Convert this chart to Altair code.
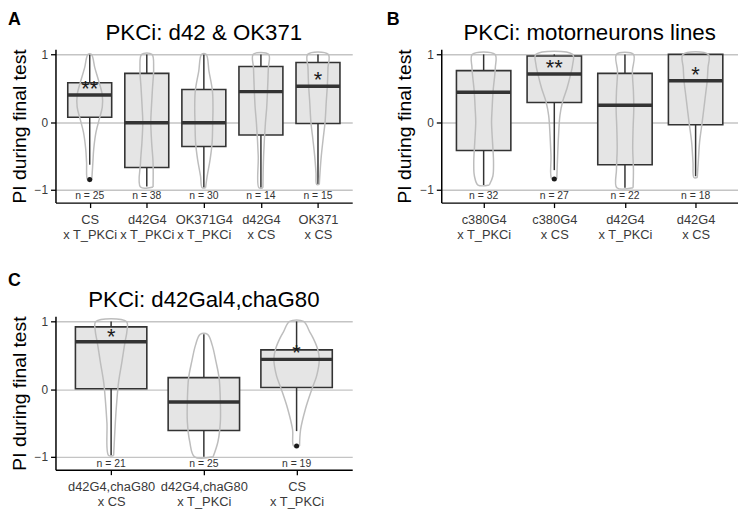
import altair as alt
import pandas as pd

FONT = "Liberation Sans"

# ---------------- Panel A ----------------
A_letter = "A"
A_title = "PKCi: d42 & OK371"
A_line1 = ["CS", "d42G4", "OK371G4", "d42G4", "OK371"]
A_line2 = ["x T_PKCi", "x T_PKCi", "x T_PKCi", " x CS", " x CS"]
A_n = [25, 38, 30, 14, 15]
A_lo = [-0.63, -0.95, -0.97, -0.97, -0.92]
A_q1 = [0.07, -0.67, -0.36, -0.19, -0.02]
A_med = [0.40, -0.01, -0.01, 0.45, 0.53]
A_q3 = [0.58, 0.72, 0.48, 0.82, 0.88]
A_hi = [1.0, 1.0, 1.0, 1.0, 1.0]
A_out_group = [0]
A_out_value = [-0.85]
A_star_group = [0, 4]
A_star_text = ["**", "*"]
A_star_value = [0.52, 0.65]
A_violin_y = [
    [1.0, 0.8, 0.6, 0.4, 0.22, 0.05, -0.15, -0.4, -0.6, -0.86],
    [1.0, 0.8, 0.5, 0.2, 0.0, -0.3, -0.6, -0.96],
    [1.0, 0.75, 0.46, 0.2, 0.0, -0.3, -0.55, -0.8, -0.97],
    [1.0, 0.8, 0.45, 0.2, 0.0, -0.5, -0.97],
    [1.0, 0.8, 0.55, 0.3, 0.0, -0.25, -0.5, -0.75, -0.92],
]
A_violin_hw = [
    [0.03, 0.09, 0.16, 0.22, 0.22, 0.17, 0.11, 0.07, 0.055, 0.035],
    [0.09, 0.12, 0.10, 0.08, 0.07, 0.085, 0.11, 0.11],
    [0.04, 0.09, 0.15, 0.16, 0.155, 0.145, 0.11, 0.058, 0.03],
    [0.135, 0.13, 0.115, 0.10, 0.08, 0.047, 0.035],
    [0.18, 0.175, 0.165, 0.145, 0.124, 0.09, 0.058, 0.035, 0.023],
]

# ---------------- Panel B ----------------
B_letter = "B"
B_title = "PKCi: motorneurons lines"
B_line1 = ["c380G4", "c380G4", "d42G4", "d42G4"]
B_line2 = ["x T_PKCi", " x CS", "x T_PKCi", " x CS"]
B_n = [32, 27, 22, 18]
B_lo = [-0.93, -0.71, -0.97, -0.80]
B_q1 = [-0.42, 0.29, -0.63, -0.04]
B_med = [0.44, 0.71, 0.25, 0.61]
B_q3 = [0.76, 0.975, 0.72, 1.0]
B_hi = [1.0, 1.0, 1.0, 1.0]
B_out_group = [1]
B_out_value = [-0.84]
B_star_group = [1, 3]
B_star_text = ["**", "*"]
B_star_value = [0.82, 0.73]
B_violin_y = [
    [1.0, 0.8, 0.45, 0.2, 0.0, -0.3, -0.6, -0.8, -0.93],
    [1.0, 0.85, 0.7, 0.5, 0.3, 0.1, -0.2, -0.5, -0.84],
    [1.0, 0.75, 0.45, 0.2, -0.1, -0.4, -0.7, -0.97],
    [1.0, 0.8, 0.6, 0.4, 0.2, 0.0, -0.3, -0.6, -0.82],
]
B_violin_hw = [
    [0.16, 0.165, 0.133, 0.12, 0.112, 0.126, 0.14, 0.13, 0.08],
    [0.26, 0.26, 0.23, 0.18, 0.117, 0.08, 0.06, 0.047, 0.035],
    [0.12, 0.105, 0.12, 0.125, 0.115, 0.11, 0.12, 0.115],
    [0.18, 0.175, 0.163, 0.14, 0.117, 0.093, 0.056, 0.037, 0.023],
]

# ---------------- Panel C ----------------
C_letter = "C"
C_title = "PKCi: d42Gal4,chaG80"
C_line1 = ["d42G4,chaG80", "d42G4,chaG80", "CS"]
C_line2 = [" x CS", "x T_PKCi", "x T_PKCi"]
C_n = [21, 25, 19]
C_lo = [-0.98, -1.0, -0.62]
C_q1 = [0.005, -0.61, 0.025]
C_med = [0.70, -0.19, 0.44]
C_q3 = [0.92, 0.17, 0.58]
C_hi = [1.0, 0.81, 1.0]
C_out_group = [2]
C_out_value = [-0.84]
C_star_group = [0, 2]
C_star_text = ["*", "*"]
C_star_value = [0.80, 0.56]
C_violin_y = [
    [1.0, 0.85, 0.7, 0.4, 0.1, -0.2, -0.5, -0.98],
    [0.81, 0.65, 0.41, 0.16, -0.19, -0.48, -0.77, -1.0],
    [1.0, 0.85, 0.75, 0.6, 0.45, 0.2, 0.0, -0.3, -0.6, -0.84],
]
C_violin_hw = [
    [0.165, 0.17, 0.15, 0.116, 0.08, 0.06, 0.045, 0.027],
    [0.04, 0.09, 0.13, 0.165, 0.178, 0.178, 0.153, 0.10],
    [0.075, 0.14, 0.18, 0.225, 0.245, 0.217, 0.165, 0.094, 0.043, 0.032],
]

Y_TITLE = "PI during final test"
Y_TICKS = [-1, 0, 1]
N_LABEL_Y = -1.1
BOX_HALF = 0.385
W, H = 300, 155


def violin_table(vy, vhw):
    """Closed outline per group: right side bottom->top, left side top->bottom."""
    rows = []
    for i, (ys, hs) in enumerate(zip(vy, vhw)):
        pts = list(zip(ys, hs))  # top -> bottom
        seq = 0
        for y, h in reversed(pts):
            rows.append({"g": i, "y": y, "hw": h, "side": 1, "seq": seq}); seq += 1
        for y, h in pts:
            rows.append({"g": i, "y": y, "hw": h, "side": -1, "seq": seq}); seq += 1
        y, h = pts[-1]
        rows.append({"g": i, "y": y, "hw": h, "side": 1, "seq": seq})
    return pd.DataFrame(rows)


def panel(letter, letter_x, letter_y, title, line1, line2, n, lo, q1, med, q3, hi,
          out_g, out_v, star_g, star_t, star_v, vy, vhw):
    k = len(line1)
    idx = list(range(k))
    stats = pd.DataFrame({"g": idx, "lo": lo, "q1": q1, "med": med, "q3": q3, "hi": hi,
                          "n": [f"n = {v}" for v in n]})
    viol = violin_table(vy, vhw)
    outs = pd.DataFrame({"g": out_g, "v": out_v})
    stars = pd.DataFrame({"g": star_g, "t": star_t, "v": star_v})
    lab = pd.DataFrame({"t": [letter], "title": [title]})

    xs = alt.Scale(domain=[-0.6, k - 0.4], nice=False, zero=False)
    ys = alt.Scale(domain=[-1.19, 1.075], nice=False, zero=False)
    expr = "[" + ",".join(f"['{a}','{b}']" for a, b in zip(line1, line2)) + "][datum.value]"
    xaxis = alt.Axis(values=idx, labelExpr=expr, title=None, grid=False,
                     domainColor="black", domainWidth=1.5, tickColor="black",
                     tickSize=5, tickWidth=1.3, labelFontSize=13, labelColor="#3a3a3a",
                     labelPadding=6, labelLineHeight=15, labelFont=FONT, labelAngle=0)
    yaxis = alt.Axis(values=Y_TICKS, title=Y_TITLE, grid=True, gridColor="#c4c4c4",
                     gridWidth=1.4, domainColor="black", domainWidth=1.5,
                     tickColor="black", tickSize=5, tickWidth=1.3, labelFontSize=12,
                     labelColor="#3a3a3a", labelPadding=3, labelFont=FONT,
                     titleFont=FONT, titleFontSize=19.5, titleFontWeight="normal",
                     titleColor="black", titlePadding=5)

    def X(f):
        return alt.X(f, scale=xs, axis=xaxis)

    def Y(f):
        return alt.Y(f, scale=ys, axis=yaxis)

    whisk = alt.Chart(stats).mark_rule(color="#333333", strokeWidth=1.5).encode(
        x=X("g:Q"), y=Y("lo:Q"), y2="hi:Q")
    boxbase = alt.Chart(stats).transform_calculate(
        left=f"datum.g - {BOX_HALF}", right=f"datum.g + {BOX_HALF}")
    box = boxbase.mark_rect(fill="#e5e5e5", stroke="#333333", strokeWidth=1.6).encode(
        x=X("left:Q"), x2="right:Q", y=Y("q1:Q"), y2="q3:Q")
    violin = alt.Chart(viol).transform_calculate(
        vx="datum.g + datum.side * datum.hw").mark_line(
        interpolate="catmull-rom", color="#bdbdbd", strokeWidth=1.5).encode(
        x=X("vx:Q"), y=Y("y:Q"), detail="g:N", order="seq:Q")
    medl = boxbase.mark_rule(color="#333333", strokeWidth=3.5).encode(
        x=X("left:Q"), x2="right:Q", y=Y("med:Q"))
    outl = alt.Chart(outs).mark_point(filled=True, color="#1a1a1a", size=26, opacity=1).encode(
        x=X("g:Q"), y=Y("v:Q"))
    star = alt.Chart(stars).mark_text(fontSize=22, dy=9, baseline="alphabetic",
                                      color="#1a1a1a", font=FONT).encode(
        x=X("g:Q"), y=Y("v:Q"), text="t:N")
    nlab = alt.Chart(stats).mark_text(fontSize=10.5, color="#333333", baseline="middle",
                                      font=FONT).encode(
        x=X("g:Q"), y=alt.Y(datum=N_LABEL_Y, scale=ys, axis=yaxis), text="n:N")
    letter_mark = alt.Chart(lab).mark_text(fontSize=18, fontWeight="bold", align="left",
                                           baseline="top", color="black", font=FONT).encode(
        x=alt.value(letter_x), y=alt.value(letter_y), text="t:N")
    title_mark = alt.Chart(lab).mark_text(fontSize=22.5, align="center", baseline="alphabetic",
                                          color="black", font=FONT).encode(
        x=alt.value(W / 2), y=alt.value(-9.5), text="title:N")

    return alt.layer(whisk, box, violin, medl, outl, star, nlab,
                     letter_mark, title_mark).properties(width=W, height=H)


pA = panel(A_letter, -48, -38.7, A_title, A_line1, A_line2, A_n, A_lo, A_q1, A_med, A_q3,
           A_hi, A_out_group, A_out_value, A_star_group, A_star_text, A_star_value,
           A_violin_y, A_violin_hw)
pB = panel(B_letter, -55, -38.7, B_title, B_line1, B_line2, B_n, B_lo, B_q1, B_med, B_q3,
           B_hi, B_out_group, B_out_value, B_star_group, B_star_text, B_star_value,
           B_violin_y, B_violin_hw)
pC = panel(C_letter, -48, -45, C_title, C_line1, C_line2, C_n, C_lo, C_q1, C_med, C_q3,
           C_hi, C_out_group, C_out_value, C_star_group, C_star_text, C_star_value,
           C_violin_y, C_violin_hw)

chart = alt.concat(pA, pB, pC, columns=2, spacing={"row": 115, "column": 90},
                   bounds="flush").properties(
    padding={"left": 0, "top": 0, "right": 0, "bottom": 0}
).configure(font=FONT).configure_view(stroke=None)

chart.save("out.html", embed_options={"renderer": "svg", "actions": False})
